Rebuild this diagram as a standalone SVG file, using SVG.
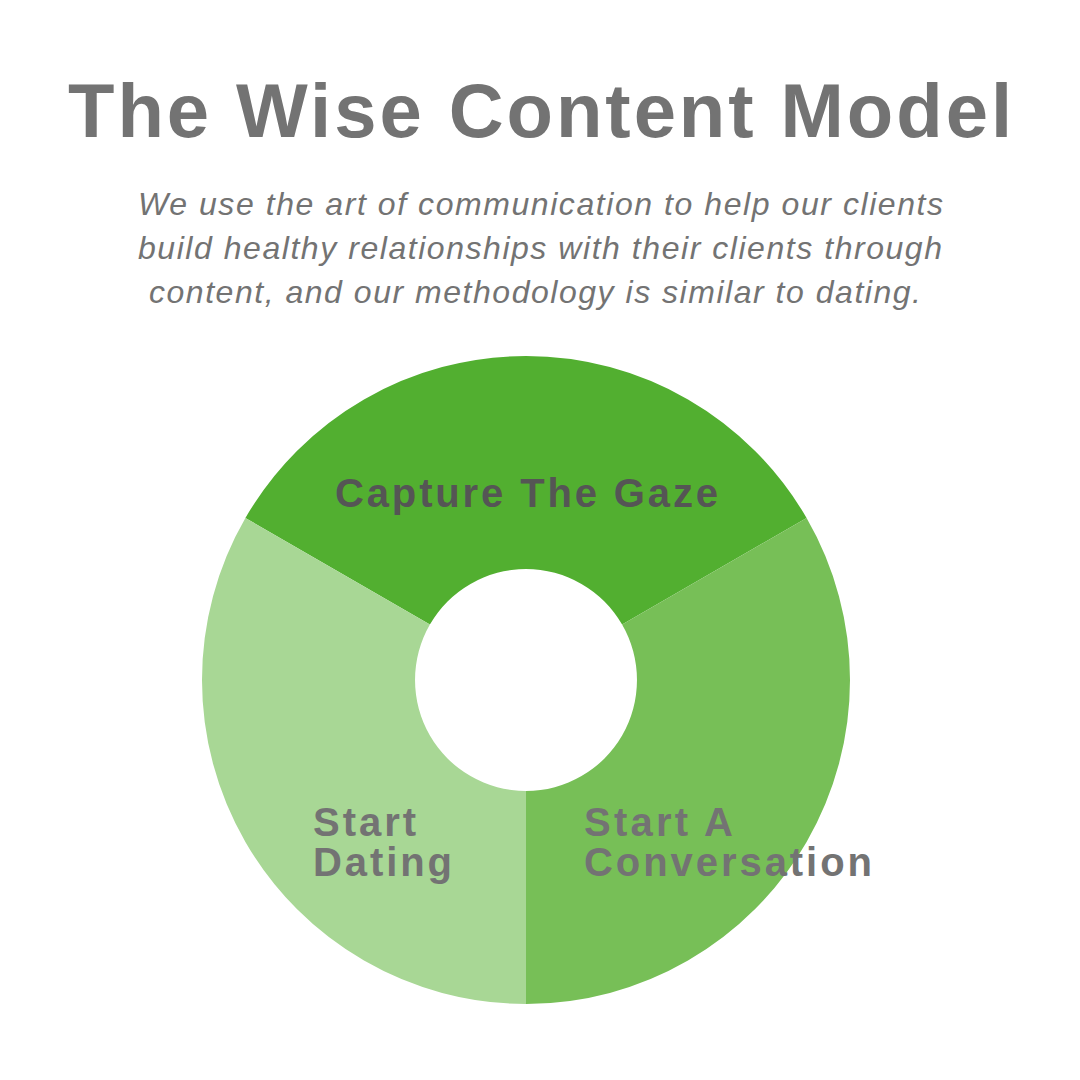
<svg xmlns="http://www.w3.org/2000/svg" width="1080" height="1080" viewBox="0 0 1080 1080">
<style>
.title{font-family:"Liberation Sans Narrow","Liberation Sans",Arial,sans-serif;font-weight:bold;font-size:76px;fill:#737373}
.sub{font-family:"Liberation Sans Narrow","Liberation Sans",Arial,sans-serif;font-style:italic;font-size:32px;fill:#737373}
.lbl{font-family:"Liberation Sans",Arial,sans-serif;font-weight:bold;font-size:40px;fill:#737373}
.lbl.dark{fill:#555555}
</style>
<rect width="1080" height="1080" fill="#ffffff"/>
<g id="title">
<text class="title" x="68" y="137" textLength="944" lengthAdjust="spacing">The Wise Content Model</text>
</g>
<g id="subtitle">
<text class="sub" x="138" y="215" textLength="805" lengthAdjust="spacing">We use the art of communication to help our clients</text>
<text class="sub" x="138" y="259" textLength="804" lengthAdjust="spacing">build healthy relationships with their clients through</text>
<text class="sub" x="149" y="303" textLength="772" lengthAdjust="spacing">content, and our methodology is similar to dating.</text>
</g>
<g id="capture-the-gaze">
<path d="M245.4,518 A324,324 0 0 1 806.6,518 L622.1,624.5 A111,111 0 0 0 429.9,624.5 Z" fill="#52AF30"/>
<text class="lbl dark" x="335" y="507" textLength="383" lengthAdjust="spacing">Capture The Gaze</text>
</g>
<g id="start-dating">
<path d="M526,1004 A324,324 0 0 1 245.4,518 L429.9,624.5 A111,111 0 0 0 526,791 Z" fill="#A8D795"/>
<text class="lbl" x="313" y="836" textLength="103" lengthAdjust="spacing">Start</text>
<text class="lbl" x="313" y="876" textLength="139" lengthAdjust="spacing">Dating</text>
</g>
<g id="start-a-conversation">
<path d="M806.6,518 A324,324 0 0 1 526,1004 L526,791 A111,111 0 0 0 622.1,624.5 Z" fill="#77BF57"/>
<text class="lbl" x="584" y="836" textLength="149" lengthAdjust="spacing">Start A</text>
<text class="lbl" x="584" y="876" textLength="288" lengthAdjust="spacing">Conversation</text>
</g>
<g id="connectors"></g>
</svg>
